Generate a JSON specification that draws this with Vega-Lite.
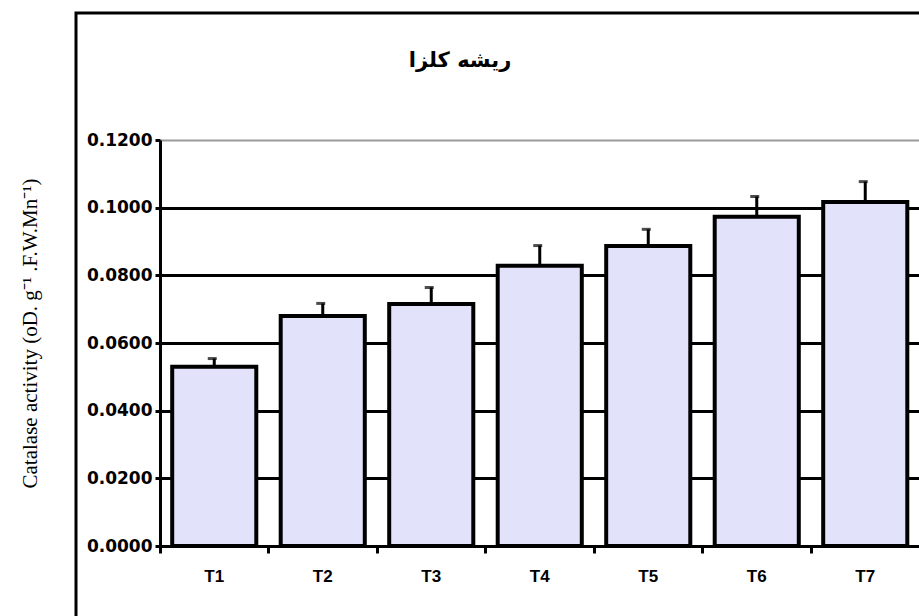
{
  "$schema": "https://vega.github.io/schema/vega-lite/v6.json",
  "width": 880,
  "height": 620,
  "autosize": {"type": "none"},
  "padding": {"left": 76, "top": 13, "right": 0, "bottom": 0},
  "background": "white",
  "config": {"view": {"stroke": "black", "strokeWidth": 3}},
  "title": {"text": "ریشه کلزا", "font": "DejaVu Sans", "fontSize": 21, "fontWeight": "bold", "color": "black", "anchor": "middle", "dx": -56, "offset": -69, "baseline": "middle"},
  "data": {"values": [
    {"T": "T1", "value": 0.0530, "upper": 0.0554},
    {"T": "T2", "value": 0.0680, "upper": 0.0717},
    {"T": "T3", "value": 0.0715, "upper": 0.0764},
    {"T": "T4", "value": 0.0828, "upper": 0.0888},
    {"T": "T5", "value": 0.0887, "upper": 0.0936},
    {"T": "T6", "value": 0.0973, "upper": 0.1033},
    {"T": "T7", "value": 0.1017, "upper": 0.1077}
  ]},
  "encoding": {
    "x": {"field": "T", "type": "nominal",
      "scale": {"range": [84, 843.5], "paddingInner": 0, "paddingOuter": 0},
      "axis": {"orient": "bottom", "offset": -87, "title": null, "labelAngle": 0, "bandPosition": 0, "labelOffset": 0,
        "tickSize": 7, "tickWidth": 3, "tickColor": "black", "domainColor": "black", "domainWidth": 3,
        "labelFont": "Liberation Sans", "labelFontWeight": "bold", "labelFontSize": 17, "labelColor": "black", "labelPadding": 15, "grid": false}}
  },
  "layer": [
    {
      "mark": {"type": "bar", "fill": "#e2e2fb", "stroke": "black", "strokeWidth": 4, "width": {"band": 0.775}},
      "encoding": {
        "y": {"field": "value", "type": "quantitative",
          "scale": {"domain": [0, 0.12], "range": [533, 127], "nice": false, "zero": true},
          "axis": {"orient": "left", "offset": -84, "values": [0, 0.02, 0.04, 0.06, 0.08, 0.1, 0.12], "format": ".4f",
            "labelFont": "DejaVu Sans", "labelFontWeight": "bold", "labelFontSize": 17, "labelColor": "black",
            "tickSize": 5, "tickWidth": 3, "tickColor": "black", "domainColor": "black", "domainWidth": 3, "labelPadding": 3,
            "labelFlush": false, "labelOverlap": false, "labelBaseline": "middle",
            "grid": true,
            "gridColor": {"condition": {"test": "datum.value >= 0.119", "value": "#9a9a9a"}, "value": "black"},
            "gridWidth": {"condition": {"test": "datum.value >= 0.119", "value": 2}, "value": 3},
            "title": "Catalase activity (oD. g⁻¹ .F.W.Mn⁻¹)",
            "titleX": -130, "titleY": 320, "titleFont": "Liberation Serif", "titleFontSize": 21, "titleFontWeight": "normal",
            "titleColor": "black", "titleAngle": -90, "titleAlign": "center", "titleBaseline": "middle"}}
      }
    },
    {
      "mark": {"type": "rule", "color": "black", "strokeWidth": 3},
      "encoding": {"y": {"field": "value", "type": "quantitative"}, "y2": {"field": "upper"}}
    },
    {
      "mark": {"type": "tick", "color": "black", "size": 9, "thickness": 3, "xOffset": -2, "orient": "horizontal"},
      "encoding": {"y": {"field": "upper", "type": "quantitative"}}
    }
  ]
}
